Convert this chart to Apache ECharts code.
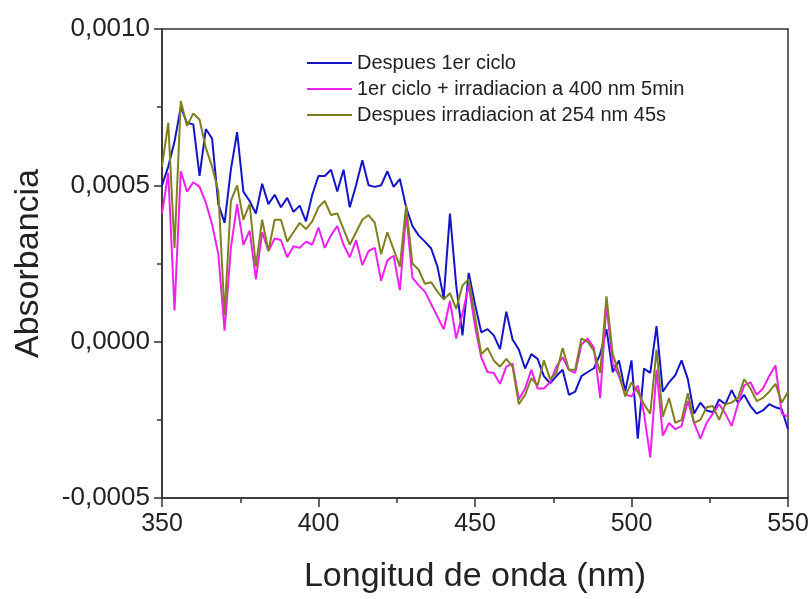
<!DOCTYPE html>
<html>
<head>
<meta charset="utf-8">
<script src="https://cdn.jsdelivr.net/npm/echarts@6/dist/echarts.min.js"></script>
<style>
  html, body { margin: 0; padding: 0; background: #fff; }
  #chart { width: 812px; height: 599px; }
</style>
</head>
<body>
<div id="chart"></div>
<script>
// absorbance values in units of 1e-4, one reading every 2 nm from 350 to 550
var despues1erCiclo = [
  5.0, 5.6, 6.4, 7.5, 7.0, 6.95, 5.3, 6.8, 6.5, 4.4,
  3.8, 5.5, 6.7, 4.8, 4.5, 4.1, 5.05, 4.4, 4.7, 4.3,
  4.6, 4.15, 4.35, 3.85, 4.7, 5.3, 5.3, 5.5, 4.8, 5.5,
  4.3, 5.0, 5.8, 5.0, 4.95, 5.0, 5.45, 4.95, 5.2, 4.3,
  3.7, 3.4, 3.2, 2.98, 2.4, 1.4, 4.1, 1.8, 0.2, 2.2,
  1.2, 0.3, 0.4, 0.2, -0.24, 0.96, 0.07, -0.25, -0.86, -0.4,
  -0.55, -1.1, -1.33, -1.1, -0.9, -1.7, -1.6, -1.1, -0.97, -0.85,
  -0.4, 0.4, -0.97, -0.6, -1.59, -0.6, -3.1, -0.86, -1.0, 0.5,
  -1.6, -1.3, -1.07, -0.6, -1.2, -2.3, -1.95, -2.2, -2.26, -1.85,
  -2.0, -1.55, -1.95, -1.7, -2.06, -2.3, -2.2, -2.0, -2.1, -2.16,
  -2.8
];
var irradiacion400 = [
  4.1, 5.4, 1.0, 5.45, 4.8, 5.1, 4.95, 4.45, 3.75, 2.8,
  0.35, 3.0, 4.4, 3.1, 3.55, 2.0, 3.5, 2.9, 3.3, 3.25,
  2.7, 3.05, 3.0, 3.2, 3.1, 3.65, 3.0, 3.4, 3.7, 3.1,
  2.7, 3.25, 2.45, 2.9, 3.0, 1.95, 2.6, 2.75, 1.65, 4.1,
  2.05, 1.8, 1.6, 1.2, 0.8, 0.4, 1.3, 0.1, 0.9, 1.8,
  0.5, -0.5, -0.97, -1.0, -1.35, -0.8, -0.7, -1.85, -1.5, -0.9,
  -1.5, -1.5, -1.3, -0.8, -0.5, -0.9, -1.0, -0.1, 0.1, -0.2,
  -1.8, 1.2, -0.7, -1.1, -1.69, -1.75, -1.4, -2.3, -3.7, -0.9,
  -3.0, -2.6, -2.8, -2.7, -1.9, -2.6, -3.1, -2.6, -2.3, -2.0,
  -2.3, -2.7, -2.0, -1.4, -1.3, -1.7, -1.5, -1.1, -0.76, -2.3,
  -2.4
];
var irradiacion254 = [
  5.6, 7.0, 3.0, 7.7, 6.9, 7.3, 7.1, 6.2, 5.6, 4.8,
  0.85, 4.5, 5.0, 3.9, 4.4, 2.4, 3.9, 2.9, 3.9, 3.9,
  3.2, 3.5, 3.8, 3.6, 3.85, 4.3, 4.5, 4.05, 4.1, 3.6,
  3.1, 3.5, 3.9, 4.05, 3.8, 2.8, 3.5, 2.95, 2.4, 4.35,
  2.5, 2.3, 1.85, 1.9, 1.6, 1.35, 1.55, 1.05, 1.8, 2.0,
  0.8, -0.4, -0.2, -0.6, -0.8, -0.55, -0.8, -2.0, -1.7, -1.17,
  -1.4, -0.6, -1.2, -1.0, -0.2, -0.9, -0.9, 0.1, 0.0, -0.3,
  -1.0, 1.45, -0.4, -1.0, -1.75, -1.3, -1.6, -2.0, -2.3, -0.25,
  -2.4, -1.8, -2.6, -2.5, -1.65, -2.6, -2.5, -2.1, -2.06, -2.5,
  -2.0, -1.95, -1.8, -1.2, -1.5, -1.9, -1.8, -1.6, -1.35, -1.95,
  -1.6
];
var seriesNames = [
  "Despues 1er ciclo",
  "1er ciclo + irradiacion a 400 nm 5min",
  "Despues irradiacion at 254 nm 45s"
];
var seriesColors = ["#1414c8", "#f020f0", "#80801e"];

// wavelength grid (nm)
var wavelengths = [];
for (var w = 350; w <= 550; w += 2) wavelengths.push(w);

function toPairs(vals) {
  return vals.map(function (v, i) { return [wavelengths[i], v * 1e-4]; });
}

var font = "'Liberation Sans', Arial, sans-serif";
var axisColor = "#333";

var chart = echarts.init(document.getElementById("chart"), null, { renderer: "canvas" });
chart.setOption({
  animation: false,
  backgroundColor: "#fff",
  grid: {
    left: 162,
    right: 24,
    top: 29,
    bottom: 93,
    show: true,
    borderColor: axisColor,
    borderWidth: 1.5
  },
  legend: {
    orient: "vertical",
    left: 302,
    top: 48,
    icon: "rect",
    itemWidth: 45,
    itemHeight: 2,
    itemGap: 6,
    textStyle: { fontFamily: font, fontSize: 20, color: "#222" },
    data: seriesNames
  },
  xAxis: {
    type: "value",
    min: 350,
    max: 550,
    interval: 50,
    name: "Longitud de onda (nm)",
    nameLocation: "middle",
    nameGap: 62,
    nameTextStyle: { fontFamily: font, fontSize: 34, color: "#222" },
    axisLine: { onZero: false, lineStyle: { color: axisColor, width: 1.5 } },
    axisTick: { show: true, inside: false, length: 9, lineStyle: { color: axisColor, width: 1.5 } },
    minorTick: { show: true, splitNumber: 2, length: 5, lineStyle: { color: axisColor, width: 1.5 } },
    axisLabel: { fontFamily: font, fontSize: 25, color: "#222", margin: 14 },
    splitLine: { show: false }
  },
  yAxis: {
    type: "value",
    min: -0.0005,
    max: 0.001,
    interval: 0.0005,
    name: "Absorbancia",
    nameLocation: "middle",
    nameGap: 116,
    nameTextStyle: { fontFamily: font, fontSize: 34, color: "#222" },
    axisLine: { show: true, onZero: false, lineStyle: { color: axisColor, width: 1.5 } },
    axisTick: { show: true, inside: false, length: 8, lineStyle: { color: axisColor, width: 1.5 } },
    minorTick: { show: true, splitNumber: 2, length: 5, lineStyle: { color: axisColor, width: 1.5 } },
    axisLabel: {
      fontFamily: font,
      fontSize: 26,
      color: "#222",
      margin: 12,
      formatter: function (v) {
        var s = Math.abs(v) < 1e-10 ? "0.0000" : v.toFixed(4);
        return s.replace(".", ",");
      }
    },
    splitLine: { show: false }
  },
  series: [0, 1, 2].map(function (k) {
    var vals = [despues1erCiclo, irradiacion400, irradiacion254][k];
    return {
      name: seriesNames[k],
      type: "line",
      symbol: "none",
      data: toPairs(vals),
      itemStyle: { color: seriesColors[k] },
      lineStyle: { color: seriesColors[k], width: 2 }
    };
  })
});
</script>
</body>
</html>
